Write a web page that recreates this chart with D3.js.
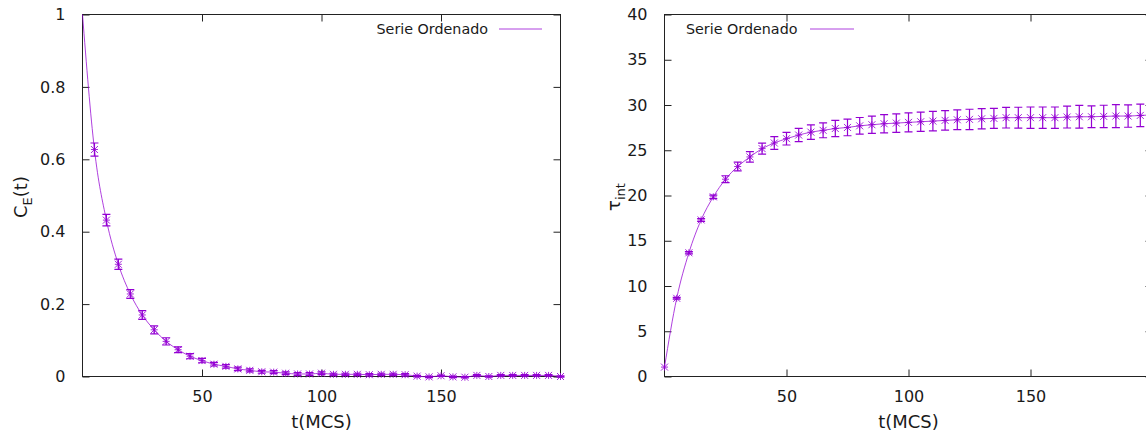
<!DOCTYPE html>
<html>
<head>
<meta charset="utf-8">
<script src="https://cdn.jsdelivr.net/npm/d3@7"></script>
<style>
  html, body { margin: 0; padding: 0; background: #fff; overflow: hidden; }
  svg { display: block; font-family: "DejaVu Sans", sans-serif; }
</style>
</head>
<body>
<svg id="chart" width="1146" height="434"></svg>
<script>
// Monte Carlo time steps (MCS)
const tSteps = [0, 5, 10, 15, 20, 25, 30, 35, 40, 45, 50, 55, 60, 65, 70, 75, 80, 85, 90, 95,
  100, 105, 110, 115, 120, 125, 130, 135, 140, 145, 150, 155, 160, 165, 170, 175, 180, 185, 190, 195, 200];

// Energy autocorrelation C_E(t) and its error
const corrValues = [1.0, 0.627, 0.432, 0.310, 0.228, 0.170, 0.129, 0.097, 0.074, 0.056, 0.044,
  0.034, 0.028, 0.021, 0.017, 0.013, 0.012, 0.009, 0.007, 0.007, 0.009,
  0.006, 0.006, 0.006, 0.005, 0.006, 0.006, 0.005, 0.001, -0.001, 0.002,
  -0.001, -0.002, 0.003, 0.000, 0.003, 0.003, 0.003, 0.003, 0.003, 0.000];
const corrErrors = [0, 0.018, 0.016, 0.014, 0.012, 0.012, 0.011, 0.010, 0.008, 0.007, 0.006,
  0.005, 0.005, 0.005, 0.004, 0.004, 0.004, 0.004, 0.004, 0.004, 0.004,
  0.003, 0.003, 0.003, 0.003, 0.003, 0.003, 0.003, 0.002, 0.002, 0.002,
  0.002, 0.002, 0.002, 0.002, 0.002, 0.002, 0.002, 0.002, 0.002, 0.002];

// Integrated autocorrelation time tau_int(t) and its error
const tauValues = [1.04, 8.64, 13.67, 17.3, 19.85, 21.8, 23.2, 24.26, 25.18, 25.8, 26.28,
  26.68, 27.0, 27.2, 27.4, 27.52, 27.7, 27.82, 27.93, 28.0, 28.08,
  28.15, 28.22, 28.3, 28.37, 28.41, 28.48, 28.52, 28.6, 28.6, 28.6,
  28.6, 28.6, 28.67, 28.7, 28.7, 28.74, 28.78, 28.78, 28.85, 28.9];
const tauErrors = [0, 0.1, 0.12, 0.15, 0.2, 0.38, 0.48, 0.58, 0.6, 0.7, 0.7,
  0.73, 0.8, 0.82, 0.9, 0.92, 0.92, 0.95, 1.0, 1.02, 1.06,
  1.07, 1.07, 1.08, 1.1, 1.12, 1.12, 1.1, 1.14, 1.15, 1.18,
  1.18, 1.18, 1.21, 1.25, 1.2, 1.23, 1.27, 1.24, 1.25, 1.27];

const xTicks = [50, 100, 150];
const corrTicks = [0, 0.2, 0.4, 0.6, 0.8, 1];
const tauTicks = [0, 5, 10, 15, 20, 25, 30, 35, 40];
const seriesName = "Serie Ordenado";
const color = "#9400d3";

const svg = d3.select("#chart");

function drawPanel(opts) {
  const { left, right, top, bottom, yDomain, yTicks, yFormat, values, errors, legend, markFirst } = opts;
  const x = d3.scaleLinear().domain([0, 200]).range([left, right]);
  const y = d3.scaleLinear().domain(yDomain).range([bottom, top]);
  const g = svg.append("g");
  const tickLen = 7;

  // frame
  g.append("rect")
    .attr("x", left).attr("y", top)
    .attr("width", right - left).attr("height", bottom - top)
    .attr("fill", "none").attr("stroke", "#222").attr("stroke-width", 1);

  // axes with inward ticks, mirrored on the opposite side
  const axB = d3.axisBottom(x).tickValues(xTicks).tickSizeInner(-tickLen).tickSizeOuter(0).tickPadding(14);
  const axT = d3.axisTop(x).tickValues(xTicks).tickSizeInner(-tickLen).tickSizeOuter(0).tickFormat("");
  const axL = d3.axisLeft(y).tickValues(yTicks).tickSizeInner(-tickLen).tickSizeOuter(0).tickPadding(17).tickFormat(yFormat);
  const axR = d3.axisRight(y).tickValues(yTicks).tickSizeInner(-tickLen).tickSizeOuter(0).tickFormat("");

  [[axB, `translate(0,${bottom})`], [axT, `translate(0,${top})`],
   [axL, `translate(${left},0)`], [axR, `translate(${right},0)`]].forEach(([ax, tr]) => {
    const a = g.append("g").attr("transform", tr).call(ax);
    a.select(".domain").remove();
    a.selectAll("line").attr("stroke", "#222");
    a.selectAll("text").attr("fill", "#1a1a1a").attr("font-size", 16)
      .attr("font-family", "DejaVu Sans, sans-serif");
  });

  // x axis title
  g.append("text")
    .attr("x", (left + right) / 2)
    .attr("y", 428)
    .attr("text-anchor", "middle")
    .attr("font-size", 18)
    .attr("fill", "#1a1a1a")
    .text("t(MCS)");

  const pts = tSteps.map((t, i) => ({ t, v: values[i], e: errors[i] }));

  // connecting line
  g.append("path")
    .datum(pts)
    .attr("fill", "none")
    .attr("stroke", color)
    .attr("stroke-width", 1)
    .attr("stroke-opacity", 0.75)
    .attr("d", d3.line().x(d => x(d.t)).y(d => y(d.v)).curve(d3.curveMonotoneX));

  // error bars
  const cap = 4;
  const eb = g.append("g").attr("stroke", color).attr("stroke-width", 1.2).attr("fill", "none");
  pts.filter(d => d.e > 0).forEach(d => {
    const cx = x(d.t), y0 = y(d.v - d.e), y1 = y(d.v + d.e);
    eb.append("path").attr("d", `M${cx},${y0}V${y1}M${cx - cap},${y0}H${cx + cap}M${cx - cap},${y1}H${cx + cap}`);
  });

  // asterisk markers
  const s = 3.5;
  const mk = g.append("g").attr("stroke", color).attr("stroke-width", 1)
    .attr("stroke-opacity", 0.85).attr("fill", "none");
  pts.filter((d, i) => markFirst || i > 0).forEach(d => {
    const cx = x(d.t), cy = y(d.v);
    mk.append("path").attr("d",
      `M${cx - s},${cy}H${cx + s}M${cx},${cy - s}V${cy + s}` +
      `M${cx - s},${cy - s}L${cx + s},${cy + s}M${cx - s},${cy + s}L${cx + s},${cy - s}`);
  });

  // key
  g.append("text")
    .attr("x", legend.textX).attr("y", 34)
    .attr("text-anchor", legend.anchor)
    .attr("font-size", 14.3)
    .attr("fill", "#1a1a1a")
    .text(seriesName);
  g.append("line")
    .attr("x1", legend.lineX1).attr("x2", legend.lineX2)
    .attr("y1", 29).attr("y2", 29)
    .attr("stroke", color).attr("stroke-width", 1).attr("stroke-opacity", 0.75);

  return { x, y };
}

// left panel: C_E(t)
drawPanel({
  left: 82.5, right: 560.5, top: 14.5, bottom: 376.5,
  yDomain: [0, 1], yTicks: corrTicks, yFormat: d3.format("~g"),
  values: corrValues, errors: corrErrors, markFirst: false,
  legend: { textX: 488, anchor: "end", lineX1: 499, lineX2: 542 }
});
svg.append("text")
  .attr("transform", "translate(27,197) rotate(-90)")
  .attr("text-anchor", "middle")
  .attr("font-size", 18)
  .attr("fill", "#1a1a1a")
  .call(t => {
    t.append("tspan").text("C");
    t.append("tspan").attr("font-size", 13).attr("dy", 5).text("E");
    t.append("tspan").attr("dy", -5).text("(t)");
  });

// right panel: tau_int
drawPanel({
  left: 664.5, right: 1152.5, top: 14.5, bottom: 376.5,
  yDomain: [0, 40], yTicks: tauTicks, yFormat: d3.format("d"),
  values: tauValues, errors: tauErrors, markFirst: true,
  legend: { textX: 686, anchor: "start", lineX1: 810, lineX2: 854 }
});
svg.append("text")
  .attr("transform", "translate(620,197) rotate(-90)")
  .attr("text-anchor", "middle")
  .attr("font-size", 18)
  .attr("fill", "#1a1a1a")
  .call(t => {
    t.append("tspan").text("τ");
    t.append("tspan").attr("font-size", 13).attr("dy", 5).text("int");
  });
</script>
</body>
</html>
